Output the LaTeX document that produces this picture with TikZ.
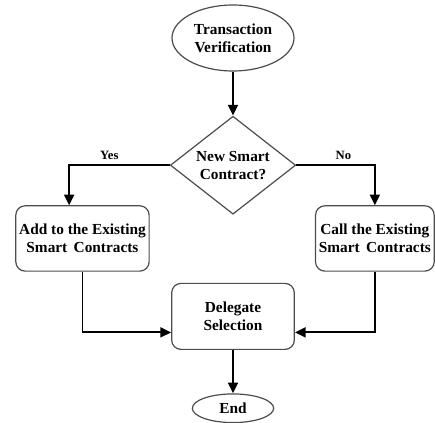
\documentclass[tikz,border=0pt]{standalone}
\usepackage{fontspec}
\setmainfont{Liberation Serif}
\usetikzlibrary{shapes.geometric,arrows.meta,positioning,calc}

\begin{document}
\begin{tikzpicture}[
    font=\fontsize{11.5}{13.5}\selectfont\bfseries,
    terminal/.style={draw=black!70, line width=0.9pt, ellipse, inner sep=0pt, align=center},
    decision/.style={draw=black!70, line width=0.9pt, diamond, aspect=1.28, inner sep=0pt, minimum width=94pt, minimum height=73.5pt, align=center},
    stepbox/.style={draw=black!70, line width=0.9pt, rectangle, rounded corners=7pt, inner sep=1pt, minimum height=49pt, align=center},
    flow/.style={line width=1.4pt, -{Triangle[length=8pt,width=7.5pt]}}
]
\useasboundingbox (0,0) rectangle (326.25pt,-317.25pt);

\node[terminal, minimum width=91.5pt, minimum height=49.5pt] (t_start) at (174.75pt,-28.5pt) {Transaction\\Verification};
\node[decision, below=33pt of t_start] (d_new) {New Smart\\Contract?};
\node[stepbox, minimum width=100pt, below left=30pt and 15pt of d_new.west] (s_add) {Add to the Existing\\Smart~\,Contracts};
\node[stepbox, minimum width=89pt, below right=30pt and 14pt of d_new.east] (s_call) {Call the Existing\\Smart~\,Contracts};
\node[stepbox, minimum width=92pt, minimum height=49.5pt, below=51pt of d_new] (s_deleg) {Delegate\\Selection};
\node[terminal, minimum width=61pt, minimum height=21.5pt, below=32.5pt of s_deleg] (t_end) {End};

\draw[flow] (t_start) -- (d_new);
\draw[flow] (d_new.west) -| node[pos=0.3, above, font=\fontsize{9.5}{10}\selectfont\bfseries]{Yes} ([xshift=-10pt]s_add.north);
\draw[flow] (d_new.east) -| node[pos=0.3, above, font=\fontsize{9.5}{10}\selectfont\bfseries]{No} (s_call.north);
\draw[flow] (s_add.south) |- ([yshift=-12pt]s_deleg.west);
\draw[flow] (s_call.south) |- ([yshift=-12pt]s_deleg.east);
\draw[flow] (s_deleg) -- (t_end);

\end{tikzpicture}
\end{document}
